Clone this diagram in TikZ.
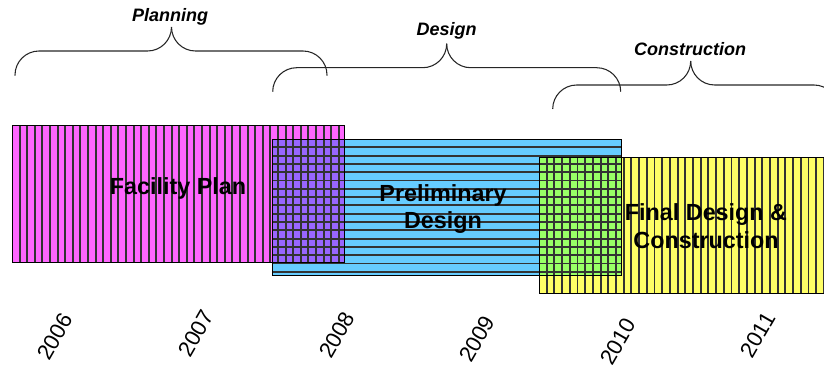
\documentclass[tikz,border=0pt]{standalone}
\usepackage{fontspec}
\setmainfont{Liberation Sans}
\definecolor{pinkfill}{HTML}{FF66FF}
\definecolor{bluefill}{HTML}{66CCFF}
\definecolor{yellowfill}{HTML}{FFFF66}
\definecolor{purplefill}{HTML}{9966FF}
\definecolor{greenfill}{HTML}{99FF66}
\newcommand\pinklines{\foreach \i in {1,...,43} \draw[stripe] ({12+7.6*\i},125) -- ({12+7.6*\i},262);}
\newcommand\bluelines{\foreach \i in {1,...,16} \draw[stripe] (272,{139+8.3*\i}) -- (621,{139+8.3*\i});}
\newcommand\yellowlines{\foreach \i in {1,...,37} \draw[stripe] ({539+7.7*\i},157) -- ({539+7.7*\i},293);}
\begin{document}
\begin{tikzpicture}[x=0.75pt,y=-0.75pt,
  stripe/.style={line width=1.4pt, draw=black!80},
  boxborder/.style={draw=black, line width=0.6pt},
  bracestyle/.style={draw=black!85, line width=0.8pt, rounded corners=18pt},
  phase/.style={font=\bfseries\itshape\fontsize{13.5}{16}\selectfont, inner sep=0pt},
  boxlabel/.style={font=\bfseries\fontsize{17.5}{20.5}\selectfont, align=center, inner sep=0pt},
  year/.style={font=\fontsize{16.5}{19}\selectfont, rotate=60, inner sep=0pt}]
\useasboundingbox (0,0) rectangle (824,369);
\clip (0,0) rectangle (824,369);

% Preliminary design box (blue, horizontal stripes)
\fill[bluefill] (272,139) rectangle (621,275);
\bluelines
\draw[boxborder] (272,139) rectangle (621,275);

% Facility plan box (pink, vertical stripes)
\fill[pinkfill] (12,125) rectangle (344,262);
\pinklines
\draw[boxborder] (12,125) rectangle (344,262);

% overlap pink/blue
\begin{scope}
\clip (272,139) rectangle (344,262);
\fill[purplefill] (272,139) rectangle (344,262);
\pinklines
\bluelines
\end{scope}
\draw[boxborder] (272,139) rectangle (344,262);

% Final design & construction box (yellow, vertical stripes)
\fill[yellowfill] (539,157) rectangle (830,293);
\yellowlines
\draw[boxborder] (539,157) rectangle (830,293);

% overlap blue/yellow
\begin{scope}
\clip (539,157) rectangle (621,275);
\fill[greenfill] (539,157) rectangle (621,275);
\yellowlines
\bluelines
\end{scope}
\draw[boxborder] (539,157) rectangle (621,275);

% box labels
\node[boxlabel] (fp) at (178,188) {Facility Plan};
\node[boxlabel] (pd) at (443,209) {Preliminary\\Design};
\node[boxlabel] (fd) at (706,226) {Final Design \&\\Construction};

% braces
\draw[bracestyle] (15,75.5) |- (171.5,51) -- (171.5,27);
\draw[bracestyle] (171.5,27) -- (171.5,51) -| (327,75.5);
\draw[bracestyle] (272.7,91.7) |- (446.7,67.7) -- (446.7,44.3);
\draw[bracestyle] (446.7,44.3) -- (446.7,67.7) -| (620.7,91.7);
\draw[bracestyle] (552.7,109) |- (690.7,85) -- (690.7,61);
\draw[bracestyle] (690.7,61) -- (690.7,85) -| (838,109);

% phase labels
\node[phase] (planning) at (170,17.3) {Planning};
\node[phase] (design) at (446.7,31) {Design};
\node[phase] (construction) at (690,49.3) {Construction};

% years
\node[year] (y2006) at (55,336.7) {2006};
\node[year] (y2007) at (196,333.3) {2007};
\node[year] (y2008) at (337,335) {2008};
\node[year] (y2009) at (477,339) {2009};
\node[year] (y2010) at (618,341.7) {2010};
\node[year] (y2011) at (758,335) {2011};
\end{tikzpicture}
\end{document}
